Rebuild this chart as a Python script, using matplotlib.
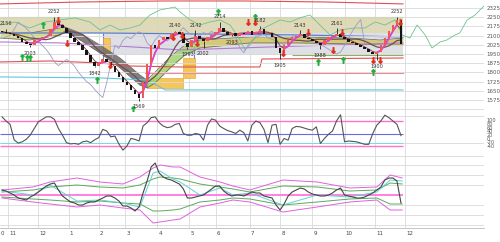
import matplotlib
matplotlib.use("Agg")
import matplotlib.pyplot as plt
from matplotlib.patches import Rectangle
import numpy as np
import pandas as pd

# ---- データ (読み取り値) ----
close = [2130, 2120, 2110, 2095, 2080, 2050, 2035, 2020, 2060, 2075,
         2090, 2100, 2150, 2210, 2185, 2160, 2125, 2080, 2050, 2020,
         1985, 1940, 1885, 1855, 1880, 1905, 1885, 1850, 1800, 1760,
         1725, 1700, 1660, 1625, 1595, 1720, 1870, 2020, 1995, 2060,
         2090, 2075, 2110, 2130, 2115, 2040, 2010, 2065, 2100, 2075,
         2055, 2090, 2105, 2130, 2165, 2130, 2105, 2120, 2095, 2125,
         2110, 2135, 2105, 2130, 2150, 2115, 2120, 2090, 2000, 1960,
         2020, 2060, 2085, 2100, 2115, 2080, 2070, 2055, 2040, 2025,
         2060, 2090, 2100, 2115, 2090, 2070, 2050, 2040, 2025, 2010,
         1990, 1970, 1950, 1965, 2020, 2080, 2140, 2190, 2230, 2030]
first_open = 2140

high_x = [1, 13, 43, 48, 54, 64, 74, 83, 98]
high_v = [2156, 2252, 2140, 2142, 2214, 2182, 2143, 2161, 2252]
low_x = [7, 23, 34, 46, 50, 57, 69, 79, 93]
low_v = [2003, 1842, 1569, 1993, 2002, 2093, 1905, 1988, 1900]

buy_x = [5, 6.2, 6.9, 10.2, 23.6, 32.5, 53.6, 62.8, 78.4, 84.6, 92]
buy_v = [1926, 1917, 1917, 2186, 1738, 1500, 2292, 2252, 1885, 1901, 1803]
sell_x = [13.9, 16.1, 26.8, 42.4, 44.7, 48.4, 61, 62.8, 69.7, 75.9, 82.1, 84.4, 92, 93.8, 98.8]
sell_v = [2227, 2040, 1860, 2089, 2105, 2040, 2211, 2211, 1958, 2129, 1983, 2129, 1901, 1901, 2211]

green_x = [-0.5, 3.2, 6.9, 10.7, 14.4, 18.1, 21.8, 24.3, 26.8, 29.3, 31.8, 34.2, 36.7,
           39.2, 41.7, 42.9, 44.2, 46.7, 49.1, 51.6, 54.1, 56.6, 59.1, 60.3, 61.5, 64,
           66.5, 69, 71.5, 73.9, 76.4, 78.9, 81.4, 83.9, 87.6, 90.1, 92.6, 95, 97.5,
           99.3, 101.2, 103, 105, 106.7, 108.7, 110.4, 112.4, 113.6, 115.4, 117.4, 118.6, 121.1]
green_v = [2186, 2211, 2162, 2211, 2227, 2244, 2211, 2146, 2186, 2146, 2162, 2186, 2268,
           2309, 2325, 2333, 2292, 2227, 2186, 2211, 2227, 2186, 2064, 1983, 2023, 2146,
           2186, 2227, 2211, 2244, 2268, 2186, 2105, 2146, 2162, 2162, 2211, 2186, 2227,
           2105, 2080, 2186, 2105, 1999, 2048, 2064, 2105, 2121, 2227, 2268, 2309, 2390]

cloud_x = [-0.5, 6.9, 14.4, 15.6, 19.4, 24.3, 29.3, 34.2, 36, 38, 41.7, 45.4, 49.1, 61.5, 73.9, 86.4, 93.8, 99.5]
cloud_top = [2121, 2121, 2162, 2170, 2121, 2023, 1917, 1779, 1738, 1803, 1926, 2023, 2064, 2089, 2089, 2080, 2064, 2080]
cloud_bot = [2080, 2064, 2105, 2138, 2064, 1958, 1836, 1697, 1673, 1714, 1836, 1942, 1999, 2040, 2040, 2032, 2023, 2023]

red_top_x = [-0.5, 20, 40, 60, 80, 99.5]
red_top_v = [2358, 2374, 2382, 2382, 2374, 2358]
red_mid_x = [-0.5, 11.9, 24.3, 31.8, 44.2, 64, 64.5, 99.5]
red_mid_v = [1885, 1893, 1877, 1852, 1844, 1844, 1909, 1917]
red_low_x = [35.5, 99.5]
red_low_v = [1795, 1795]
cyan_x = [-0.5, 24.3, 36, 40.5, 99.5]
cyan_v = [1763, 1755, 1738, 1657, 1657]
purple_x = [-0.5, 14.4, 24.3, 36.7, 44.2, 66.5, 81.4, 99.5]
purple_v = [2048, 2040, 2023, 1999, 1983, 2007, 2023, 2040]
blue_x = [-0.5, 24.3, 49.1, 73.9, 99.5]
blue_v = [2121, 2121, 2113, 2105, 2089]

# 価格帯ボックス
box_x0 = [36, 44.9, 44.9, 44.9, 25]
box_x1 = [44.9, 47.9, 47.9, 47.9, 26.8]
box_lo = [1673, 1860, 1803, 1754, 1966]
box_hi = [1754, 1917, 1860, 1803, 2080]

rsi = [90, 80, 72, 35, 27, 30, 36, 46, 62, 78,
       84, 90, 90, 84, 62, 46, 28, 25, 26, 24,
       30, 32, 28, 35, 40, 60, 56, 42, 44, 25,
       10, 20, 38, 36, 32, 68, 76, 88, 90, 76,
       68, 64, 66, 72, 74, 50, 46, 46, 50, 48,
       34, 70, 85, 82, 68, 62, 57, 54, 50, 58,
       52, 32, 70, 80, 76, 60, 28, 70, 72, 24,
       38, 34, 62, 67, 66, 63, 60, 58, 66, 26,
       38, 48, 56, 80, 95, 30, 32, 31, 30, 27,
       24, 24, 50, 70, 80, 94, 88, 80, 72, 45]
rsi_labels = ["100", "80", "60", "40", "20", "0", "-20", "-40"]

osc = [5, 4, 2, 0, -3, -4, -5, -2, 0, 3,
       6, 9, 11, 12, 5, -1, -4, -7, -8, -10,
       -10, -8, -7, -7, -5, -3, -1, -1, -3, -6,
       -11, -11, -13, -16, -12, 2, 14, 28, 32, 22,
       18, 16, 15, 13, 11, 6, -3, -3, -2, -1,
       0, 3, 6, 9, 9, 4, 1, -1, 0, 0,
       -1, 1, 3, 2, 2, -1, -2, -3, -10, -15,
       -9, -1, 3, 5, 7, 6, 3, 1, 0, -1,
       -1, 0, 2, 5, 7, 0, -1, -2, -3, -3,
       -2, 0, 2, 5, 8, 15, 17, 17, 14, -8]
band_x = [0, 7.7, 11.9, 18.6, 24.3, 30, 34.2, 37.5, 39.2, 42.4, 44.2, 49.1, 54.1, 57.3, 61.5, 69.7, 78.2, 86.3, 93, 96.3, 99.3]
band_up = [5, 8, 13, 17, 13, 11, 18, 27, 30, 28, 28, 18, 13, 9, 5, 15, 13, 7, 8, 20, 17]
band_dn = [-3, -7, -9, -12, -10, -13, -15, -28, -27, -25, -24, -12, -8, -5, -7, -17, -12, -7, -5, -15, -15]
inner_up = [3, 5, 8, 10, 8, 7, 10, 16, 18, 17, 16, 11, 8, 6, 3, 9, 8, 4, 5, 12, 11]
inner_dn = [-2, -4, -5, -7, -6, -8, -9, -16, -16, -15, -14, -7, -5, -3, -4, -10, -7, -4, -3, -9, -9]
signal = [4, 0, 10, -6, -5, -8, -12, 22, 24, 16, 13, 0, 7, 0, 2, -10, 0, -2, 3, 15, 14]

month_lines = [1.5, 9, 16.5, 24, 30.5, 38.5, 46.5, 53, 61.5, 69, 77, 85, 92.5, 100]
month_label_x = [-0.55] + month_lines
month_labels = ["0", "11", "12", "1", "2", "3", "4", "5", "6", "7", "8", "9", "10", "11", "12"]

# ---- 図 ----
W, H = 500, 242
fig = plt.figure(figsize=(5.0, 2.42), dpi=100)
fig.patch.set_facecolor("white")


def box(x0, y0, x1, y1):
    return [x0 / W, 1 - y1 / H, (x1 - x0) / W, (y1 - y0) / H]


ax1 = fig.add_axes(box(0, 0, 484, 112))
ax2 = fig.add_axes(box(0, 112, 484, 158))
ax3 = fig.add_axes(box(0, 158, 484, 228))
grid_c = "#d9d9d9"
for ax in (ax1, ax2, ax3):
    ax.set_xlim(-0.5, 119.6)
    for s in ax.spines.values():
        s.set_visible(False)
    ax.tick_params(axis="x", bottom=False, labelbottom=False)
    for m in month_lines:
        ax.axvline(m, color=grid_c, lw=0.6, zorder=0.2)
    ax.yaxis.tick_right()
    ax.tick_params(axis="y", length=0, pad=2, labelsize=4, colors="#555555")

# --- 上段: 株価 ---
ax1.set_ylim(1477, 2390)
yt = np.arange(1500, 2326, 75)
ax1.set_yticks(yt)
ax1.set_yticklabels([""] + [str(v) for v in yt[1:]])
ax1.grid(axis="y", color=grid_c, lw=0.6, zorder=0.2)

ax1.add_patch(Rectangle((-0.5, 2121), 100, 131, color="#dcd5ad", alpha=0.9, lw=0, zorder=0.5))
ax1.add_patch(Rectangle((25, 1942), 74.5, 179, color="#dcdce4", alpha=0.9, lw=0, zorder=0.5))
ax1.hlines(2252, -0.5, 99.5, color="#9bbb6a", lw=0.8, zorder=1)
ax1.hlines(1942, 72, 99.5, color="#8fb060", lw=0.8, zorder=1)
ax1.vlines([25, 47.6], 1901, 2121, color="#5b7fd0", lw=0.8, zorder=1)

for x0, x1, lo, hi in zip(box_x0, box_x1, box_lo, box_hi):
    ax1.add_patch(Rectangle((x0, lo), x1 - x0, hi - lo, facecolor="#f6c65b",
                            edgecolor="#e0a030", lw=0.4, zorder=1.2))

cx = np.array(cloud_x)
segs = [(cx <= 15.6, "#c9d77a"), ((cx >= 15.6) & (cx <= 36), "#6f6868"),
        ((cx >= 36) & (cx <= 49.1), "#9fd36a"), (cx >= 49.1, "#d3c763")]
for mask, col in segs:
    ax1.fill_between(cloud_x, cloud_bot, cloud_top, where=mask, color=col, alpha=0.85, lw=0, zorder=1.3)
ax1.plot(cloud_x, cloud_top, color="#6a6060", lw=0.5, zorder=1.4)
ax1.plot(cloud_x, cloud_bot, color="#6a6060", lw=0.5, zorder=1.4)

ax1.plot(red_top_x, red_top_v, color="#e05050", lw=0.8, zorder=1.5)
ax1.plot(red_mid_x, red_mid_v, color="#e05050", lw=0.8, zorder=1.5)
ax1.plot(red_low_x, red_low_v, color="#f08a8a", lw=0.8, zorder=1.5)
ax1.plot(cyan_x, cyan_v, color="#60c8e0", lw=0.8, zorder=1.5)
ax1.plot(purple_x, purple_v, color="#b07cd0", lw=0.8, zorder=1.5)
ax1.plot(blue_x, blue_v, color="#5b7fd0", lw=0.9, zorder=1.5)
ax1.plot(green_x, green_v, color="#6cc48e", lw=0.6, zorder=1.6)

c = pd.Series(close, dtype=float)
o = c.shift(1).fillna(first_open)
x = np.arange(len(c))
lag = c.shift(-9)
ax1.plot(x, lag, color="#9c9cc4", lw=0.6, zorder=1.7)

ma9 = c.rolling(9, min_periods=1).mean()
ax1.plot(x, ma9, color="#6b5050", lw=0.9, zorder=1.8)
ma3 = c.rolling(3, min_periods=1).mean()
rising = ma3.diff() > 0
ax1.plot(x, ma3, color="#7a3030", lw=0.6, zorder=1.9)
ax1.plot(x, ma3.where(rising | rising.shift(-1, fill_value=False)), color="#e040d0", lw=1.3, zorder=1.95)

up = (c >= o).values
ax1.bar(x[up], (c - o)[up], bottom=o[up], width=0.65, color="#ee5a50", lw=0, zorder=3)
ax1.bar(x[~up], (o - c)[~up], bottom=c[~up], width=0.65, color="#151515", lw=0, zorder=3)
ax1.vlines(high_x, c[high_x], high_v, color="#222222", lw=0.6, zorder=2.9)
ax1.vlines(low_x, c[low_x], low_v, color="#222222", lw=0.6, zorder=2.9)

ax1.plot(buy_x, buy_v, ls="none", marker=r"$\uparrow$", ms=4, color="#20b040", zorder=4)
ax1.plot(sell_x, sell_v, ls="none", marker=r"$\downarrow$", ms=4, color="#e03020", zorder=4)

for hx, hv in zip(high_x, high_v):
    ax1.text(hx, hv + 20, str(hv), ha="center", va="bottom", fontsize=3.6, color="#333333", zorder=5)
for lx, lv in zip(low_x, low_v):
    ax1.text(lx, lv - 30, str(lv), ha="center", va="top", fontsize=3.6, color="#333333", zorder=5)

# --- 中段: オシレーター ---
ax2.set_ylim(-8.8, 101.6)
ax2.set_yticks(np.linspace(82, 20, 8))
ax2.set_yticklabels(rsi_labels)
ax2.tick_params(axis="y", labelsize=3.6)
ax2.axhline(92, color=grid_c, lw=0.6, zorder=0.2)
ax2.axhline(-4, color=grid_c, lw=0.6, zorder=0.2)
ax2.axhline(28, color=grid_c, lw=0.6, zorder=0.2)
ax2.hlines([80, 20], -0.5, 99.5, color="#ff70d0", lw=1.0, zorder=1)
ax2.hlines(50, -0.5, 99.5, color="#6a6ae0", lw=0.8, zorder=1)
ax2.hlines(28, -0.5, 99.5, color="#70e0e0", lw=0.7, zorder=1)
ax2.plot(x, rsi, color="#555555", lw=0.8, zorder=2)

# --- 下段 ---
ax3.set_ylim(-33, 37)
ax3.set_yticks([])
for g in (30, 20, 10, -10, -20, -30):
    ax3.axhline(g, color=grid_c, lw=0.6, zorder=0.2)
ax3.hlines(0, -0.5, 99.5, color="#ff80e0", lw=1.4, zorder=1)
ax3.plot(band_x, band_up, color="#e060e0", lw=0.7, zorder=2)
ax3.plot(band_x, band_dn, color="#e060e0", lw=0.7, zorder=2)
ax3.plot(band_x, inner_up, color="#5aaa5a", lw=0.7, zorder=2)
ax3.plot(band_x, inner_dn, color="#5aaa5a", lw=0.7, zorder=2)
ax3.plot(band_x, signal, color="#5fd3d3", lw=0.7, zorder=2.5)
ax3.plot(x, osc, color="#444444", lw=0.8, zorder=3)
ax3.spines["bottom"].set_visible(True)
ax3.spines["bottom"].set_color("#bbbbbb")
ax3.spines["bottom"].set_linewidth(0.6)

for mx, ml in zip(month_label_x, month_labels):
    ax3.text(mx + 0.3, -0.04, ml, transform=ax3.get_xaxis_transform(),
             ha="left", va="top", fontsize=4, color="#444444")

fig.savefig("out.png", dpi=100, facecolor="white")
